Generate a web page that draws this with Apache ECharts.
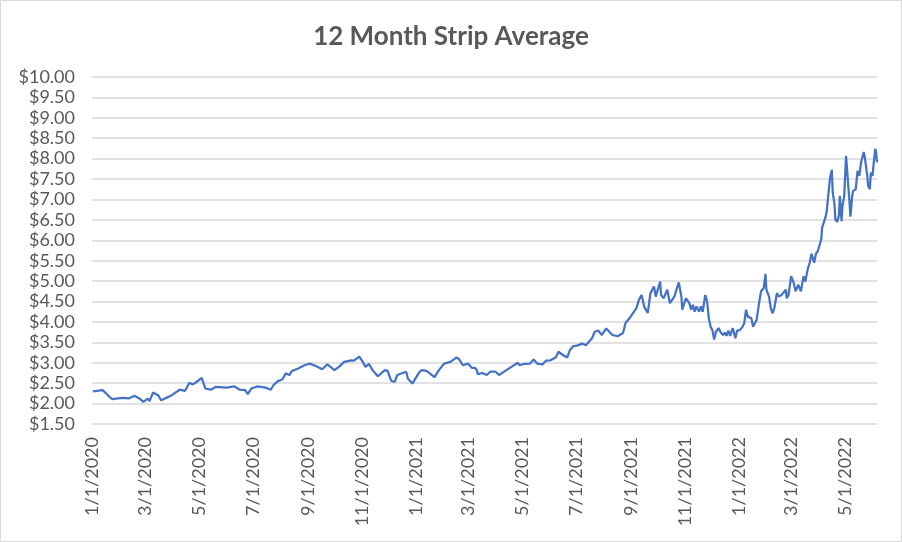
<!DOCTYPE html>
<html><head><meta charset="utf-8">
<script src="https://cdn.jsdelivr.net/npm/echarts@6/dist/echarts.min.js"></script>
<style>html,body{margin:0;padding:0;background:#fff}#c{width:902px;height:542px}</style>
</head><body><div id="c"></div>
<script>
const titleText = '12 Month Strip Average';
const tickDates = ['2020-01-01','2020-03-01','2020-05-01','2020-07-01','2020-09-01','2020-11-01',
  '2021-01-01','2021-03-01','2021-05-01','2021-07-01','2021-09-01','2021-11-01',
  '2022-01-01','2022-03-01','2022-05-01'];
const axisStart = '2020-01-01';
const axisEnd = '2022-06-06';
const yMin = 1.5, yMax = 10, yStep = 0.5;

const strip2020 = [
 ['2020-01-02',2.30],['2020-01-13',2.33],['2020-01-21',2.16],['2020-01-24',2.11],['2020-02-04',2.14],
 ['2020-02-12',2.13],['2020-02-18',2.19],['2020-02-24',2.12],['2020-02-28',2.04],['2020-03-04',2.12],
 ['2020-03-06',2.06],['2020-03-10',2.27],['2020-03-16',2.20],['2020-03-19',2.08],['2020-03-25',2.14],
 ['2020-03-30',2.19],['2020-04-03',2.25],['2020-04-09',2.34],['2020-04-15',2.31],['2020-04-20',2.51],
 ['2020-04-24',2.47],['2020-04-30',2.56],['2020-05-04',2.63],['2020-05-08',2.37],['2020-05-14',2.34],
 ['2020-05-20',2.41],['2020-06-01',2.39],['2020-06-10',2.42],['2020-06-16',2.34],['2020-06-22',2.33],
 ['2020-06-25',2.23],['2020-06-29',2.37],['2020-07-06',2.42],['2020-07-15',2.39],['2020-07-21',2.34],
 ['2020-07-24',2.45],['2020-07-29',2.55],['2020-08-03',2.59],['2020-08-07',2.74],['2020-08-11',2.70],
 ['2020-08-14',2.80],['2020-08-21',2.86],['2020-08-28',2.94],['2020-09-03',2.98],['2020-09-10',2.92],
 ['2020-09-17',2.84],['2020-09-23',2.96],['2020-10-01',2.82],['2020-10-06',2.90],['2020-10-12',3.02],
 ['2020-10-20',3.06],['2020-10-23',3.05],['2020-10-29',3.15],['2020-11-02',3.02],['2020-11-05',2.90],
 ['2020-11-09',2.97],['2020-11-13',2.82],['2020-11-19',2.67],['2020-11-27',2.82],['2020-11-30',2.80],
 ['2020-12-04',2.56],['2020-12-08',2.53],['2020-12-11',2.70],['2020-12-17',2.75],['2020-12-21',2.78],
 ['2020-12-23',2.61],['2020-12-28',2.49]
];
const strip2021 = [
 ['2021-01-04',2.74],['2021-01-07',2.82],['2021-01-13',2.80],['2021-01-15',2.78],['2021-01-22',2.65],
 ['2021-01-27',2.82],['2021-02-02',2.98],['2021-02-09',3.02],['2021-02-16',3.13],['2021-02-19',3.08],
 ['2021-02-23',2.94],['2021-03-01',2.98],['2021-03-05',2.88],['2021-03-10',2.86],['2021-03-12',2.72],
 ['2021-03-17',2.75],['2021-03-22',2.70],['2021-03-26',2.78],['2021-04-01',2.78],['2021-04-05',2.70],
 ['2021-04-12',2.80],['2021-04-19',2.90],['2021-04-26',3.00],['2021-04-28',2.94],['2021-05-03',2.97],
 ['2021-05-10',2.98],['2021-05-14',3.08],['2021-05-18',2.98],['2021-05-24',2.96],['2021-05-28',3.05],
 ['2021-06-02',3.06],['2021-06-08',3.13],['2021-06-11',3.27],['2021-06-16',3.19],['2021-06-21',3.13],
 ['2021-06-24',3.31],['2021-06-28',3.41],['2021-07-02',3.42],['2021-07-08',3.47],['2021-07-12',3.43],
 ['2021-07-19',3.60],['2021-07-22',3.76],['2021-07-26',3.79],['2021-07-30',3.68],['2021-08-04',3.84],
 ['2021-08-06',3.80],['2021-08-11',3.68],['2021-08-17',3.65],['2021-08-23',3.73],['2021-08-26',3.98],
 ['2021-08-31',4.11],['2021-09-02',4.09],['2021-09-07',4.33],['2021-09-10',4.54],['2021-09-13',4.66],
 ['2021-09-16',4.37],['2021-09-20',4.22],['2021-09-23',4.70],['2021-09-27',4.87],['2021-09-29',4.62],
 ['2021-10-04',4.99],['2021-10-05',4.66],['2021-10-08',4.58],['2021-10-12',4.79],['2021-10-15',4.46],
 ['2021-10-20',4.62],['2021-10-25',4.97],['2021-10-28',4.62],['2021-10-29',4.30],['2021-11-02',4.58],
 ['2021-11-06',4.46],['2021-11-08',4.30],['2021-11-10',4.42],['2021-11-12',4.25],['2021-11-14',4.38],
 ['2021-11-17',4.25],['2021-11-19',4.38],['2021-11-21',4.25],['2021-11-24',4.66],['2021-11-26',4.50],
 ['2021-11-28',4.09],['2021-11-30',3.88],['2021-12-02',3.80],['2021-12-04',3.57],['2021-12-06',3.76],
 ['2021-12-09',3.85],['2021-12-11',3.76],['2021-12-14',3.68],['2021-12-16',3.74],['2021-12-18',3.66],
 ['2021-12-20',3.79],['2021-12-22',3.66],['2021-12-25',3.85],['2021-12-28',3.60],['2021-12-30',3.79]
];
const strip2022 = [
 ['2022-01-02',3.80],['2022-01-05',3.88],['2022-01-07',3.97],['2022-01-09',4.30],['2022-01-11',4.13],
 ['2022-01-13',4.17],['2022-01-15',4.09],['2022-01-17',3.88],['2022-01-19',3.97],['2022-01-21',4.05],
 ['2022-01-24',4.50],['2022-01-26',4.75],['2022-01-29',4.83],['2022-01-31',5.18],['2022-02-01',4.79],
 ['2022-02-04',4.62],['2022-02-06',4.34],['2022-02-08',4.21],['2022-02-10',4.34],['2022-02-13',4.71],
 ['2022-02-15',4.62],['2022-02-18',4.66],['2022-02-20',4.71],['2022-02-23',4.79],['2022-02-24',4.58],
 ['2022-02-26',4.66],['2022-03-01',5.12],['2022-03-04',4.95],['2022-03-06',4.75],['2022-03-09',4.91],
 ['2022-03-10',4.87],['2022-03-12',4.75],['2022-03-15',5.12],['2022-03-17',4.99],['2022-03-20',5.32],
 ['2022-03-22',5.45],['2022-03-24',5.67],['2022-03-25',5.65],['2022-03-27',5.45],['2022-03-29',5.67],
 ['2022-03-31',5.73],['2022-04-02',5.71],['2022-04-04',6.02],['2022-04-05',6.31],['2022-04-07',6.35],
 ['2022-04-09',6.58],['2022-04-10',6.68],['2022-04-13',7.33],['2022-04-14',7.54],['2022-04-16',7.73],
 ['2022-04-17',7.17],['2022-04-19',6.88],['2022-04-20',6.51],['2022-04-22',6.45],['2022-04-24',6.61],
 ['2022-04-25',7.09],['2022-04-27',6.47],['2022-04-28',6.84],['2022-04-30',7.09],['2022-05-02',8.07],
 ['2022-05-04',7.50],['2022-05-06',6.92],['2022-05-07',6.58],['2022-05-09',7.09],['2022-05-10',7.21],
 ['2022-05-13',7.25],['2022-05-15',7.70],['2022-05-17',7.58],['2022-05-19',7.91],['2022-05-22',8.16],
 ['2022-05-23',8.07],['2022-05-26',7.58],['2022-05-27',7.33],['2022-05-29',7.25],['2022-05-30',7.66],
 ['2022-06-01',7.58],['2022-06-02',7.83],['2022-06-04',8.24],['2022-06-05',8.16],['2022-06-06',7.91]
];

function ts(s){const p=s.split('-').map(Number);return new Date(p[0],p[1]-1,p[2]).getTime();}
const seriesData = strip2020.concat(strip2021, strip2022).map(p => [ts(p[0]), p[1]]);
const txt = '#595959';
const chart = echarts.init(document.getElementById('c'), null, {renderer:'canvas'});
chart.setOption({
  animation:false,
  backgroundColor:'#ffffff',
  title:{text:titleText,left:'center',top:19,
    textStyle:{fontFamily:'Lato',fontSize:26,fontWeight:'bold',color:txt}},
  grid:{left:92,right:25,top:77,bottom:118,containLabel:false},
  xAxis:{type:'value',min:ts(axisStart),max:ts(axisEnd),
    axisLine:{show:false},axisTick:{show:false},splitLine:{show:false},
    axisLabel:{customValues:tickDates.map(ts),rotate:90,margin:13,fontFamily:'Lato',fontSize:18,color:txt,
      formatter:function(v){const d=new Date(v);return (d.getMonth()+1)+'/'+d.getDate()+'/'+d.getFullYear();}}},
  yAxis:{type:'value',min:yMin,max:yMax,interval:yStep,
    axisLine:{show:false},axisTick:{show:false},
    splitLine:{lineStyle:{color:'#d9d9d9',width:1.5}},
    axisLabel:{margin:17,fontFamily:'Lato',fontSize:18,color:txt,formatter:function(v){return '$'+v.toFixed(2);}}},
  graphic:[{type:'rect',silent:true,shape:{x:0.5,y:0.5,width:901,height:541},
    style:{fill:'none',stroke:'#d9d9d9',lineWidth:1}}],
  series:[{type:'line',data:seriesData,showSymbol:false,symbol:'none',
    lineStyle:{color:'#4472C4',width:2.25},itemStyle:{color:'#4472C4'}}]
});
</script></body></html>
